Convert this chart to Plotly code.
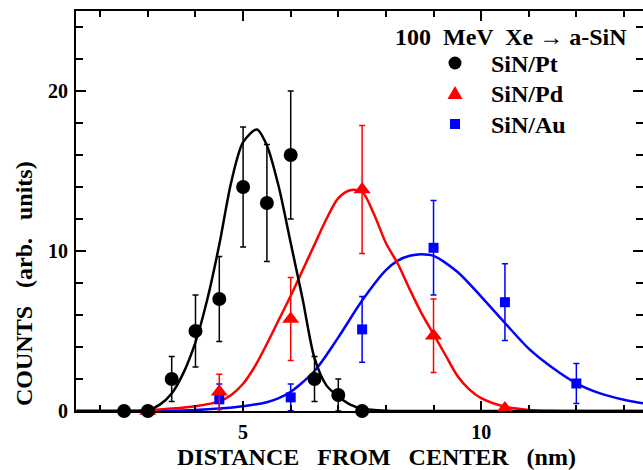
import plotly.graph_objects as go

# ---- data ----
pt_x = [2.5, 3.0, 3.5, 4.0, 4.5, 5.0, 5.5, 6.0, 6.5, 7.0, 7.5]
pt_y = [0, 0, 2, 5, 7, 14, 13, 16, 2, 1, 0]
pt_err = [0, 0, 1.4, 2.25, 2.65, 3.75, 3.65, 4.0, 1.4, 1.0, 0]

pd_x = [3.0, 4.5, 6.0, 7.5, 9.0, 10.5]
pd_y = [0, 1.2, 5.75, 13.85, 4.7, 0.15]
pd_err = [0, 1.1, 2.6, 4.0, 2.3, 0]

au_x = [4.5, 6.0, 7.5, 9.0, 10.5, 12.0]
au_y = [0.73, 0.85, 5.1, 10.2, 6.8, 1.72]
au_err = [0.95, 0.84, 2.05, 2.95, 2.4, 1.25]

# fitted curves
pt_fit_x = [1.5, 2.5, 3.0, 3.25, 3.5, 3.75, 4.0, 4.25, 4.5, 4.75, 5.0, 5.29, 5.5, 5.75,
            6.0, 6.25, 6.5, 6.75, 7.0, 7.25, 7.5, 8.0, 9.0, 13.4]
pt_fit_y = [0, 0, 0.05, 0.4, 1.1, 2.4, 4.3, 7.0, 10.4, 14.3, 16.8, 17.6, 16.6, 14.0,
            10.5, 7.0, 3.3, 1.6, 0.9, 0.4, 0.15, 0.02, 0, 0]

pd_fit_x = [1.5, 2.5, 3.0, 3.5, 4.0, 4.5, 4.75, 5.0, 5.25, 5.5, 5.75, 6.0, 6.25, 6.5,
            6.75, 7.0, 7.25, 7.5, 7.75, 8.0, 8.25, 8.5, 8.75, 9.0, 9.25, 9.5, 9.75,
            10.0, 10.5, 11.0, 11.5, 13.4]
pd_fit_y = [0, 0, 0.05, 0.15, 0.3, 0.6, 1.0, 1.7, 2.8, 4.2, 5.7, 7.2, 8.8, 10.4,
            12.0, 13.3, 13.8, 13.7, 12.3, 10.5, 9.2, 7.6, 6.1, 4.8, 3.5, 2.2, 1.35,
            0.8, 0.27, 0.07, 0.01, 0]

au_fit_x = [1.5, 3.0, 3.5, 4.0, 4.5, 5.0, 5.5, 5.75, 6.0, 6.5, 7.0, 7.5, 8.0, 8.25,
            8.5, 8.75, 9.0, 9.5, 10.0, 10.5, 11.0, 11.5, 12.0, 12.5, 13.0, 13.4]
au_fit_y = [0, 0, 0.02, 0.06, 0.15, 0.3, 0.55, 0.8, 1.2, 2.5, 4.6, 6.9, 8.8, 9.4,
            9.7, 9.8, 9.7, 8.7, 7.15, 5.5, 3.9, 2.7, 1.73, 1.1, 0.7, 0.48]

series_names = ["SiN/Pt", "SiN/Pd", "SiN/Au"]
x_range = [1.49, 13.40]
y_range = [0, 25]
x_ticks = [5, 10]
y_ticks = [0, 10, 20]

BLACK = "#000000"
RED = "#ff0000"
BLUE = "#0000ff"
FONT = "Liberation Serif"

# plot-area geometry in pixels (for placing texts)
L, T, W, H = 76, 11, 567, 400


def px(xp):
    return (xp - L) / W


def py(yp):
    return (T + H - yp) / H


fig = go.Figure()

for fx, fy, col in [(au_fit_x, au_fit_y, BLUE), (pd_fit_x, pd_fit_y, RED), (pt_fit_x, pt_fit_y, BLACK)]:
    fig.add_trace(go.Scatter(x=fx, y=fy, mode="lines", showlegend=False,
                             line=dict(color=col, width=2.5, shape="spline", smoothing=0.8),
                             cliponaxis=False, hoverinfo="skip"))

series = [
    (series_names[0], pt_x, pt_y, pt_err, BLACK, "circle", 14),
    (series_names[1], pd_x, pd_y, pd_err, RED, "triangle-up", 15),
    (series_names[2], au_x, au_y, au_err, BLUE, "square", 10),
]
for order in [2, 1, 0]:
    name, sx, sy, se, col, sym, sz = series[order]
    fig.add_trace(go.Scatter(
        x=sx, y=sy, mode="markers", name=name, showlegend=False,
        marker=dict(color=col, symbol=sym, size=sz, line=dict(width=0)),
        error_y=dict(type="data", array=se, visible=True, color=col, thickness=1.5, width=3),
        cliponaxis=False))

axis_font = dict(family=FONT, size=20, color="black", weight="bold")

fig.update_layout(
    width=643, height=470,
    margin=dict(l=L, r=643 - L - W, t=T, b=470 - T - H),
    paper_bgcolor="white", plot_bgcolor="white",
    font=dict(family=FONT, color="black"),
    showlegend=False,
    xaxis=dict(range=x_range, tickvals=x_ticks, ticks="inside", ticklen=10, tickwidth=2,
               tickcolor="black", showline=True, linewidth=2, linecolor="black",
               mirror="ticks", showgrid=False, zeroline=False, tickfont=axis_font,
               ticklabelstandoff=2,
               minor=dict(dtick=1, tick0=0, ticks="inside", ticklen=6, tickwidth=1.5,
                          tickcolor="black", showgrid=False)),
    yaxis=dict(range=y_range, tickvals=y_ticks, ticks="inside", ticklen=10, tickwidth=2,
               tickcolor="black", showline=True, linewidth=2, linecolor="black",
               showgrid=False, zeroline=False, tickfont=axis_font, ticklabelstandoff=2,
               minor=dict(dtick=2, tick0=0, ticks="inside", ticklen=7, tickwidth=1.5,
                          tickcolor="black", showgrid=False)),
    yaxis2=dict(range=y_range, overlaying="y", side="right", anchor="x", tickvals=y_ticks,
                ticks="inside", ticklen=10, tickwidth=2, tickcolor="black",
                showline=False, showgrid=False, zeroline=False, showticklabels=False,
                minor=dict(dtick=2, tick0=0, ticks="inside", ticklen=7, tickwidth=1.5,
                           tickcolor="black", showgrid=False)),
)
# invisible trace to activate the right-hand tick axis
fig.add_trace(go.Scatter(x=[x_range[0]], y=[0], yaxis="y2", mode="markers",
                         marker=dict(opacity=0), showlegend=False, hoverinfo="skip"))

title_font = dict(family=FONT, size=24, color="black", weight="bold")
fig.add_annotation(text="DISTANCE   FROM   CENTER   (nm)", xref="paper", yref="paper",
                   x=px(376), y=py(457), xanchor="center", yanchor="middle",
                   showarrow=False, font=title_font)
fig.add_annotation(text="COUNTS   (arb.   units)", xref="paper", yref="paper",
                   x=px(24), y=py(284), xanchor="center", yanchor="middle",
                   textangle=-90, showarrow=False, font=title_font)
fig.add_annotation(text="100  MeV  Xe \u2192 a-SiN", xref="paper", yref="paper",
                   x=px(629), y=py(37), xanchor="right", yanchor="middle",
                   showarrow=False, font=title_font)

# legend (keys + labels)
key_x = 455
key_y = [63, 93, 124]
key_cols = [BLACK, RED, BLUE]
for name, ky, col in zip(series_names, key_y, key_cols):
    fig.add_annotation(text=name, xref="paper", yref="paper", x=px(489), y=py(ky + 1),
                       xanchor="left", yanchor="middle", showarrow=False, font=title_font)
# circle key
fig.add_shape(type="circle", xref="paper", yref="paper",
              x0=px(key_x - 6.5), x1=px(key_x + 6.5), y0=py(key_y[0] + 6.5), y1=py(key_y[0] - 6.5),
              fillcolor=BLACK, line=dict(width=0))
# triangle key
tri = "M {} {} L {} {} L {} {} Z".format(px(key_x - 7.5), py(key_y[1] + 6), px(key_x + 7.5),
                                         py(key_y[1] + 6), px(key_x), py(key_y[1] - 7))
fig.add_shape(type="path", xref="paper", yref="paper", path=tri, fillcolor=RED, line=dict(width=0))
# square key
fig.add_shape(type="rect", xref="paper", yref="paper",
              x0=px(key_x - 5), x1=px(key_x + 5), y0=py(key_y[2] + 5), y1=py(key_y[2] - 5),
              fillcolor=BLUE, line=dict(width=0))

fig.write_html("out.html", config={"displayModeBar": False},
               post_script="document.body.style.margin='0';document.body.style.overflow='hidden';")
